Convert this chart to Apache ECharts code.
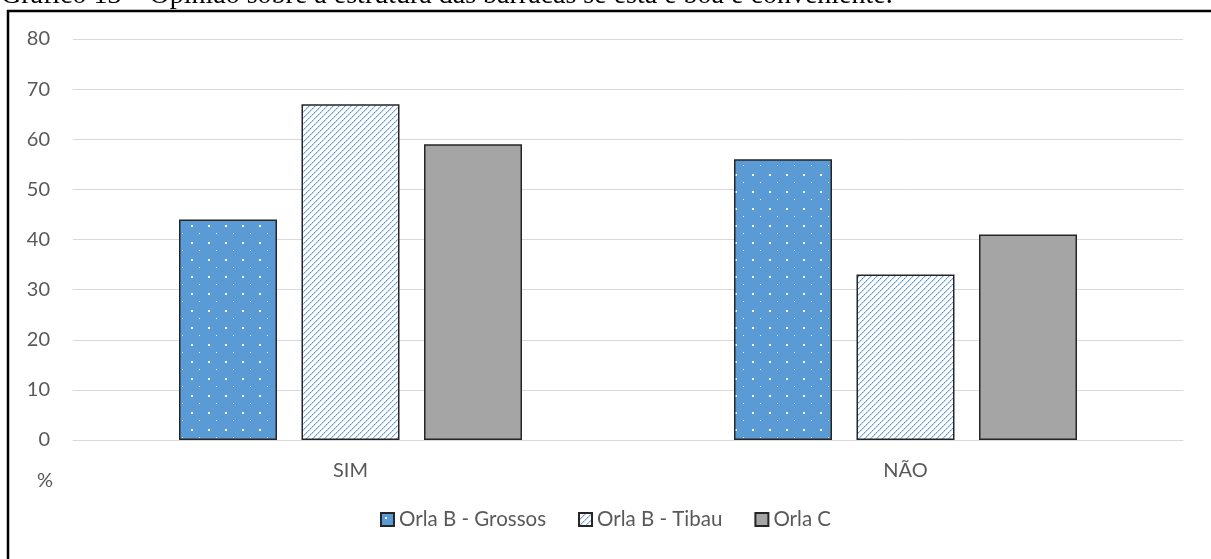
<!DOCTYPE html>
<html>
<head>
<meta charset="utf-8">
<script src="https://cdn.jsdelivr.net/npm/echarts@6/dist/echarts.min.js"></script>
<style>
  html, body { margin: 0; padding: 0; background: #fff; }
  #chart { width: 1211px; height: 559px; }
</style>
</head>
<body>
<div id="chart"></div>
<script>
// Answers (%) per beach strip
const categories = ['SIM', 'NÃO'];
const seriesNames = ['Orla B - Grossos', 'Orla B - Tibau', 'Orla C'];
const grossos = [44, 56];
const tibau = [67, 33];
const orlaC = [59, 41];
const yTicks = { min: 0, max: 80, interval: 10 };
const titleText = 'Gráfico 13 – Opinião sobre a estrutura das barracas se está é boa e conveniente.';

// Blue fill with a sparse grid of white dots
function dotPattern() {
  const c = document.createElement('canvas');
  c.width = 17; c.height = 17;
  const g = c.getContext('2d');
  g.fillStyle = '#5B9BD5';
  g.fillRect(0, 0, 17, 17);
  g.fillStyle = '#ffffff';
  g.fillRect(4, 4, 2, 2);
  g.fillRect(12, 12, 1, 1);
  return c;
}

// White fill with fine rising blue diagonal stripes
function stripePattern() {
  const n = 6;
  const c = document.createElement('canvas');
  c.width = n; c.height = n;
  const g = c.getContext('2d');
  g.fillStyle = '#ffffff';
  g.fillRect(0, 0, n, n);
  for (let x = 0; x < n; x++) {
    for (let y = 0; y < n; y++) {
      const k = (x + y) % n;
      if (k === 0) { g.fillStyle = (x % 2 === 0) ? '#5B9BD5' : '#8DB8E3'; g.fillRect(x, y, 1, 1); }
      else if (k === 1) { g.fillStyle = '#C9DEF2'; g.fillRect(x, y, 1, 1); }
    }
  }
  return c;
}

const textColor = '#595959';
const fontFamily = 'Lato, "Open Sans", sans-serif';
const border = { borderColor: '#262626', borderWidth: 1.5 };

const chart = echarts.init(document.getElementById('chart'), null, { renderer: 'canvas' });

chart.setOption({
  backgroundColor: '#ffffff',
  animation: false,
  grid: { left: 73, right: 28, top: 39, bottom: 119 },
  legend: {
    data: seriesNames,
    bottom: 24,
    left: 'center',
    itemWidth: 13,
    itemHeight: 13,
    itemGap: 32,
    icon: 'rect',
    textStyle: { color: textColor, fontSize: 20.5, fontFamily: fontFamily, padding: [0, 0, 0, 0] }
  },
  xAxis: {
    type: 'category',
    data: categories,
    axisTick: { show: false },
    axisLine: { lineStyle: { color: '#D9D9D9', width: 1 } },
    axisLabel: { color: textColor, fontSize: 20, fontFamily: fontFamily, margin: 21 }
  },
  yAxis: {
    type: 'value',
    min: yTicks.min,
    max: yTicks.max,
    interval: yTicks.interval,
    axisLine: { show: false },
    axisTick: { show: false },
    splitLine: { lineStyle: { color: '#D9D9D9', width: 1 } },
    axisLabel: { color: textColor, fontSize: 20, fontFamily: fontFamily, margin: 23 }
  },
  series: [
    {
      name: seriesNames[0], type: 'bar', data: grossos,
      barWidth: 98, barGap: '25%',
      itemStyle: Object.assign({ color: { image: dotPattern(), repeat: 'repeat' } }, border)
    },
    {
      name: seriesNames[1], type: 'bar', data: tibau,
      barWidth: 98, barGap: '25%',
      itemStyle: Object.assign({ color: { image: stripePattern(), repeat: 'repeat' } }, border)
    },
    {
      name: seriesNames[2], type: 'bar', data: orlaC,
      barWidth: 98, barGap: '25%',
      itemStyle: Object.assign({ color: '#A5A5A5' }, border)
    }
  ],
  graphic: [
    {
      type: 'text', left: 37, top: 471,
      style: { text: '%', fill: textColor, font: '20px ' + fontFamily }
    },
    {
      type: 'text', x: 1, y: 10,
      style: {
        text: titleText, fill: '#000000',
        font: '28px "Liberation Serif", "Times New Roman", serif',
        verticalAlign: 'bottom'
      }
    },
    {
      type: 'rect', silent: true,
      shape: { x: 8, y: 11, width: 1400, height: 800 },
      style: { fill: 'none', stroke: '#000000', lineWidth: 2.5 }
    }
  ]
});
</script>
</body>
</html>
